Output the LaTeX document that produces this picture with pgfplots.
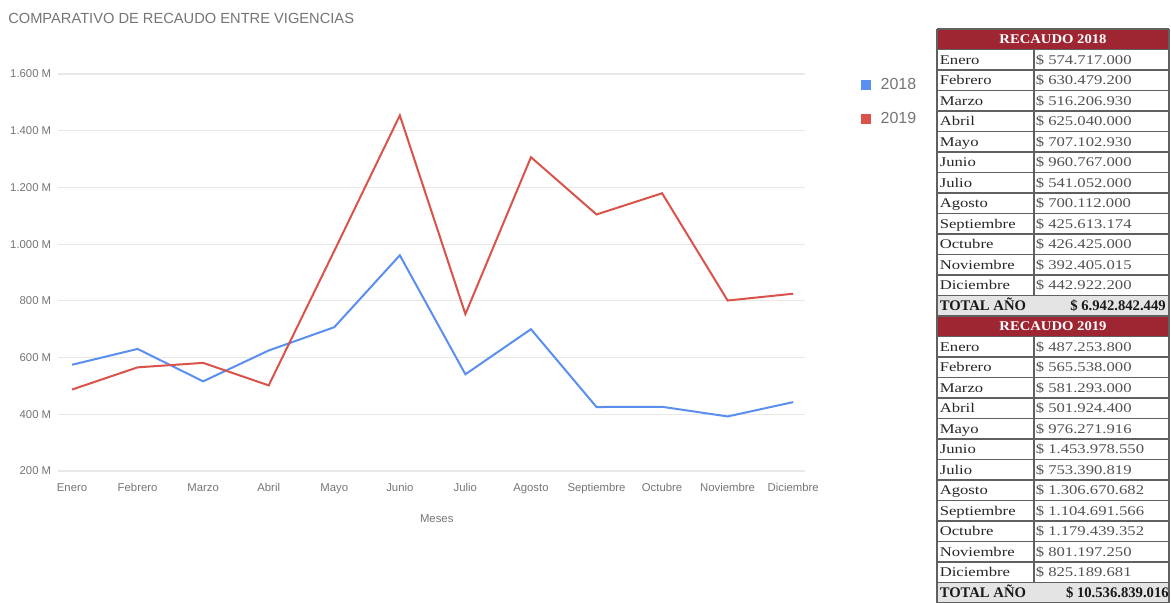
\documentclass[border=0pt]{standalone}
\usepackage{fontspec}
\setmainfont{Liberation Sans}
\newfontfamily\tabfont{Liberation Serif}
\usepackage{pgfplots}
\pgfplotsset{compat=1.18}
\definecolor{c18}{HTML}{5A8FF0}
\definecolor{c19}{HTML}{D9534A}
\definecolor{gridc}{HTML}{E8E8E8}
\definecolor{txt}{HTML}{757575}
\definecolor{hdr}{RGB}{158,38,50}
\definecolor{tline}{HTML}{606060}
\definecolor{tot}{HTML}{E4E4E4}
\begin{document}
\begin{tikzpicture}[x=0.75pt,y=-0.75pt]
\useasboundingbox (0,0) rectangle (1171,603);
\node[anchor=west, text=txt, font=\fontsize{11}{13}\selectfont, inner sep=0pt] at (8,18) {COMPARATIVO DE RECAUDO ENTRE VIGENCIAS};
\begin{axis}[
  at={(43.5pt,-353.25pt)}, anchor=south west,
  scale only axis, width=560.25pt, height=297.75pt,
  xmin=-0.214, xmax=11.18, ymin=200, ymax=1600,
  axis line style={draw=none},
  major tick length=0pt,
  ymajorgrids, grid style={gridc, line width=0.9pt},
  xtick={0,...,11},
  xticklabels={Enero,Febrero,Marzo,Abril,Mayo,Junio,Julio,Agosto,Septiembre,Octubre,Noviembre,Diciembre},
  ytick={200,400,...,1600},
  yticklabels={200 M,400 M,600 M,800 M,1.000 M,1.200 M,1.400 M,1.600 M},
  tick label style={font=\fontsize{8.5}{10}\selectfont, text=txt},
  xticklabel style={anchor=base, yshift=-15pt},
  yticklabel style={anchor=east, xshift=-1.6pt},
  xlabel={Meses},
  xlabel style={font=\fontsize{8.5}{10}\selectfont, text=txt, at={(axis description cs:0.507,0)}, anchor=center, yshift=-36pt},
  legend style={at={(1.075,0.9975)}, anchor=north west, draw=none, fill=none,
    font=\fontsize{12}{14}\selectfont, text=txt, row sep=12pt, inner sep=0pt,
    /tikz/every odd column/.style={column sep=5pt}},
  legend cell align=left,
  legend image code/.code={\fill[#1, draw=none] (0pt,-3.75pt) rectangle (7.5pt,3.75pt);},
  clip=false,
]
\addplot[c18, line width=1.5pt] coordinates {(0,574.717)(1,630.479)(2,516.207)(3,625.040)(4,707.103)(5,960.767)(6,541.052)(7,700.112)(8,425.613)(9,426.425)(10,392.405)(11,442.922)};
\addlegendentry{2018}
\addplot[c19, line width=1.5pt] coordinates {(0,487.254)(1,565.538)(2,581.293)(3,501.924)(4,976.272)(5,1453.979)(6,753.391)(7,1306.671)(8,1104.692)(9,1179.439)(10,801.197)(11,825.190)};
\addlegendentry{2019}
\end{axis}
% table
\fill[hdr] (937,29) rectangle (1169,49.5);
\fill[hdr] (937,316) rectangle (1169,336.5);
\fill[tot] (937,295.5) rectangle (1169,316);
\fill[tot] (937,582.5) rectangle (1169,603);
\foreach \k in {0,...,28} {\draw[tline, line width=0.9pt] (937,{29+20.5*\k}) -- (1169,{29+20.5*\k});}
\draw[tline, line width=0.9pt] (937,29) -- (937,603) (1169,29) -- (1169,603);
\draw[tline, line width=0.9pt] (1034,49.5) -- (1034,295.5) (1034,336.5) -- (1034,582.5);
\node[anchor=base, text=white, font=\tabfont\bfseries\fontsize{10}{12}\selectfont, inner sep=0pt] at (1053,43.5) {\scalebox{1.1}[1]{RECAUDO 2018}};
\node[anchor=base, text=white, font=\tabfont\bfseries\fontsize{10}{12}\selectfont, inner sep=0pt] at (1053,330.5) {\scalebox{1.1}[1]{RECAUDO 2019}};
\foreach \m/\v [count=\i] in {Enero/574.717.000,Febrero/630.479.200,Marzo/516.206.930,Abril/625.040.000,Mayo/707.102.930,Junio/960.767.000,Julio/541.052.000,Agosto/700.112.000,Septiembre/425.613.174,Octubre/426.425.000,Noviembre/392.405.015,Diciembre/442.922.200} {
  \node[anchor=base west, inner sep=0pt, text=black!85, font=\tabfont\fontsize{10}{12}\selectfont] at (939.5,{29+20.5*\i+14.6}) {\scalebox{1.25}[1]{\m}};
  \node[anchor=base west, inner sep=0pt, text=black!68, font=\tabfont\fontsize{10}{12}\selectfont] at (1035.5,{29+20.5*\i+14.6}) {\scalebox{1.25}[1]{\$ \v}};
}
\foreach \m/\v [count=\i from 15] in {Enero/487.253.800,Febrero/565.538.000,Marzo/581.293.000,Abril/501.924.400,Mayo/976.271.916,Junio/1.453.978.550,Julio/753.390.819,Agosto/1.306.670.682,Septiembre/1.104.691.566,Octubre/1.179.439.352,Noviembre/801.197.250,Diciembre/825.189.681} {
  \node[anchor=base west, inner sep=0pt, text=black!85, font=\tabfont\fontsize{10}{12}\selectfont] at (939.5,{29+20.5*\i+14.6}) {\scalebox{1.25}[1]{\m}};
  \node[anchor=base west, inner sep=0pt, text=black!68, font=\tabfont\fontsize{10}{12}\selectfont] at (1035.5,{29+20.5*\i+14.6}) {\scalebox{1.25}[1]{\$ \v}};
}
\node[anchor=base west, inner sep=0pt, text=black!90, font=\tabfont\bfseries\fontsize{11}{13}\selectfont] at (939.5,310.8) {TOTAL AÑO};
\node[anchor=base east, inner sep=0pt, text=black!90, font=\tabfont\bfseries\fontsize{11}{13}\selectfont] at (1166,310.8) {\$ 6.942.842.449};
\node[anchor=base west, inner sep=0pt, text=black!90, font=\tabfont\bfseries\fontsize{11}{13}\selectfont] at (939.5,597.8) {TOTAL AÑO};
\node[anchor=base east, inner sep=0pt, text=black!90, font=\tabfont\bfseries\fontsize{11}{13}\selectfont] at (1169,597.8) {\$ 10.536.839.016};
\end{tikzpicture}
\end{document}
